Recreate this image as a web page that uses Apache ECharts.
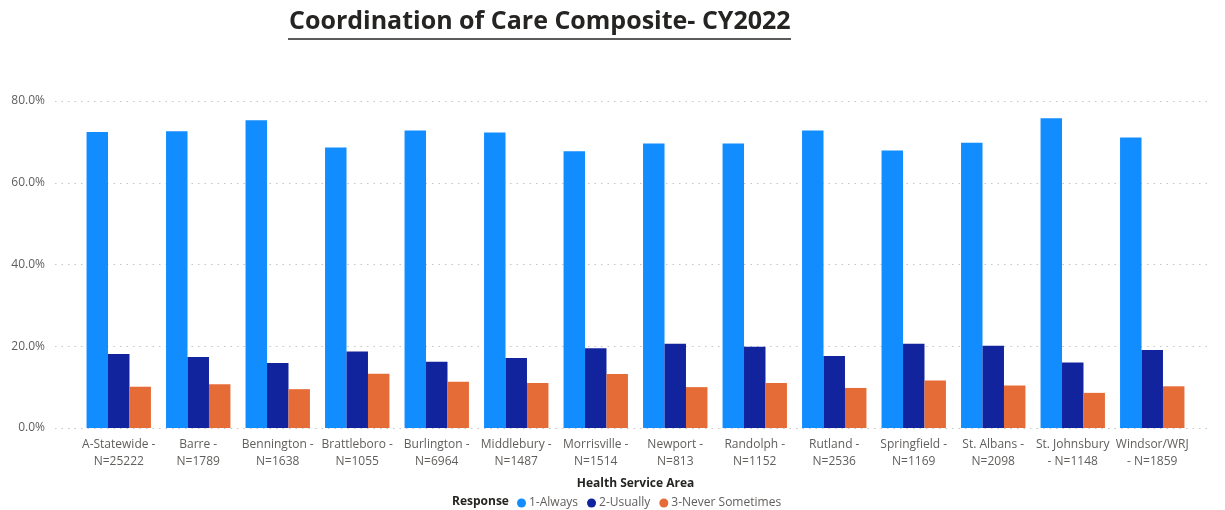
<!DOCTYPE html>
<html>
<head>
<meta charset="utf-8">
<script src="https://cdn.jsdelivr.net/npm/echarts@6/dist/echarts.min.js"></script>
<style>
html,body{margin:0;padding:0;background:#fff;}
#chart{width:1225px;height:510px;}
</style>
</head>
<body>
<div id="chart"></div>
<script>
const categories = [
  "A-Statewide -\nN=25222", "Barre -\nN=1789", "Bennington -\nN=1638", "Brattleboro -\nN=1055",
  "Burlington -\nN=6964", "Middlebury -\nN=1487", "Morrisville -\nN=1514", "Newport -\nN=813",
  "Randolph -\nN=1152", "Rutland -\nN=2536", "Springfield -\nN=1169", "St. Albans -\nN=2098",
  "St. Johnsbury\n- N=1148", "Windsor/WRJ\n- N=1859"
];
const always    = [72.4, 72.6, 75.3, 68.6, 72.8, 72.3, 67.7, 69.6, 69.6, 72.8, 67.9, 69.8, 75.8, 71.1];
const usually   = [18.1, 17.4, 15.9, 18.7, 16.2, 17.1, 19.5, 20.6, 19.9, 17.6, 20.6, 20.1, 16.0, 19.1];
const never     = [10.1, 10.7,  9.5, 13.3, 11.3, 11.0, 13.2, 10.0, 11.0,  9.8, 11.6, 10.4,  8.6, 10.2];
const seriesNames = ["1-Always", "2-Usually", "3-Never Sometimes"];
const yTicks = [0, 20, 40, 60, 80];

const FONT = "'Open Sans', 'Noto Sans', sans-serif";
const chart = echarts.init(document.getElementById('chart'), null, {renderer: 'canvas'});
const colors = ['#118DFF', '#12239E', '#E66C37'];

chart.setOption({
  animation: false,
  textStyle: {fontFamily: FONT},
  title: [
    {
      text: 'Coordination of Care Composite- CY2022',
      left: 284, top: 4,
      textStyle: {fontFamily: FONT, fontSize: 25, fontWeight: 'bold', color: '#252423'}
    },
    {
      text: 'Response',
      left: 447, top: 491,
      textStyle: {fontFamily: FONT, fontSize: 12, fontWeight: 'bold', color: '#252423'}
    }
  ],
  graphic: [
    {type: 'line', shape: {x1: 288, y1: 39, x2: 791, y2: 39}, style: {stroke: '#252423', lineWidth: 1.5}}
  ],
  legend: {
    data: seriesNames,
    left: 512, top: 492,
    icon: 'circle',
    itemWidth: 9, itemHeight: 9, itemGap: 9,
    textStyle: {fontFamily: FONT, fontSize: 12, color: '#605E5C', padding: [0, 0, 0, -2]}
  },
  grid: [
    {left: 55, right: 13, top: 101, bottom: 82},
    {left: 79, right: 33, top: 101, bottom: 82}
  ],
  xAxis: [
    {gridIndex: 0, type: 'value', min: 0, max: 1, show: false},
    {
      gridIndex: 1, type: 'category', data: categories,
      axisLine: {show: false}, axisTick: {show: false},
      axisLabel: {interval: 0, fontFamily: FONT, fontSize: 12, color: '#605E5C', lineHeight: 17, margin: 8},
      name: 'Health Service Area', nameLocation: 'middle', nameGap: 50,
      nameTextStyle: {fontFamily: FONT, fontSize: 12, fontWeight: 'bold', color: '#252423'}
    }
  ],
  yAxis: [
    {
      gridIndex: 0, type: 'value', min: yTicks[0], max: yTicks[yTicks.length - 1], interval: 20,
      axisLine: {show: false}, axisTick: {show: false},
      axisLabel: {fontFamily: FONT, fontSize: 12, color: '#605E5C', margin: 10,
        formatter: v => v.toFixed(1) + '%'},
      splitLine: {show: true, lineStyle: {color: '#C8C6C4', width: 1, type: [1.5, 5]}}
    },
    {
      gridIndex: 1, type: 'value', min: yTicks[0], max: yTicks[yTicks.length - 1], interval: 20,
      show: false, splitLine: {show: false}
    }
  ],
  series: [
    {name: seriesNames[0], type: 'bar', xAxisIndex: 1, yAxisIndex: 1, data: always,
      itemStyle: {color: colors[0]}, barGap: '0%', barCategoryGap: '19%'},
    {name: seriesNames[1], type: 'bar', xAxisIndex: 1, yAxisIndex: 1, data: usually,
      itemStyle: {color: colors[1]}, barGap: '0%', barCategoryGap: '19%'},
    {name: seriesNames[2], type: 'bar', xAxisIndex: 1, yAxisIndex: 1, data: never,
      itemStyle: {color: colors[2]}, barGap: '0%', barCategoryGap: '19%'}
  ]
});
</script>
</body>
</html>
